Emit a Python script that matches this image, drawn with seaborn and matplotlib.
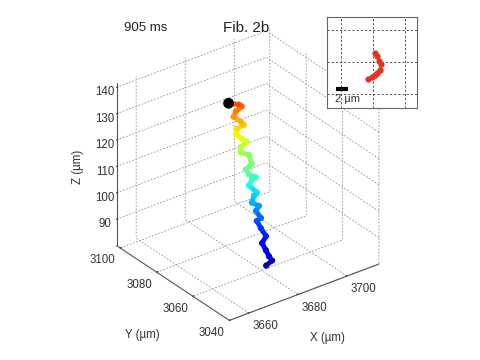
import numpy as np
import matplotlib
matplotlib.use("Agg")
import matplotlib.pyplot as plt
import seaborn as sns
from mpl_toolkits.mplot3d.art3d import Line3DCollection

# ---- data: fibre tip trajectory (µm), start (blue) -> end (black dot)
x_um = [3678.3, 3681.0, 3680.2, 3679.6, 3678.8, 3680.9, 3679.7, 3678.8, 3680.6,
        3679.4, 3680.9, 3678.6, 3680.0, 3681.4, 3679.0, 3680.7, 3682.3, 3680.0,
        3679.3, 3682.0, 3681.7, 3678.9, 3679.4, 3682.1, 3680.5, 3678.7, 3679.5,
        3682.5, 3681.6, 3679.4, 3680.7, 3683.4, 3682.4, 3678.9]
y_um = [3055.2, 3055.6, 3056.2, 3057.1, 3058.1, 3058.8, 3060.0, 3061.0, 3061.2,
        3062.3, 3062.7, 3063.4, 3064.2, 3064.4, 3065.6, 3066.2, 3066.3, 3067.0,
        3067.7, 3068.1, 3069.3, 3070.0, 3070.6, 3071.0, 3071.5, 3072.4, 3073.0,
        3073.2, 3073.7, 3074.6, 3075.1, 3075.5, 3075.8, 3076.7]
z_um = [84.6, 85.4, 87.0, 89.1, 91.6, 93.2, 96.1, 98.7, 99.1, 101.7, 102.9,
        104.6, 106.4, 107.0, 110.0, 111.4, 111.6, 113.2, 115.0, 115.9, 118.9,
        120.6, 122.1, 123.0, 124.4, 126.5, 127.9, 128.3, 129.6, 131.8, 133.1,
        133.9, 134.8, 136.1]

# ---- inset (top view of last positions, µm)
inset_x = [10.3, 10.6, 11.0, 11.2, 11.1, 10.7, 10.3, 9.8, 9.2]
inset_y = [11.4, 10.9, 10.2, 9.6, 8.8, 8.3, 8.0, 7.7, 7.4]

x_ticks = [3660, 3680, 3700]
y_ticks = [3040, 3060, 3080, 3100]
z_ticks = [90, 100, 110, 120, 130, 140]
time_label = "905 ms"
title_label = "Fib. 2b"
scale_label = "2 µm"

sns.set_style("white")
plt.rcParams['font.family'] = ['Liberation Sans', 'DejaVu Sans']
plt.rcParams['grid.linestyle'] = (0, (2.0, 2.0))
plt.rcParams['grid.color'] = '#8f8f8f'
plt.rcParams['grid.linewidth'] = 0.6

fig = plt.figure(figsize=(4.8, 3.6), dpi=100)
ax = fig.add_axes([0.006, 0.004, 1.0, 1.0], projection='3d', computed_zorder=False)
ax.set_proj_type('ortho')
ax.view_init(elev=30, azim=-127)
ax.set_box_aspect((1, 1, 1), zoom=0.875)
ax.set_xlim(3652, 3713)
ax.set_ylim(3040, 3102)
ax.set_zlim(80, 141.5)
ax.set_xticks(x_ticks, labels=[str(v) for v in x_ticks], ha='left')
ax.set_yticks(y_ticks, labels=[str(v) for v in y_ticks], ha='right')
ax.set_zticks(z_ticks)

for axis in (ax.xaxis, ax.yaxis, ax.zaxis):
    axis.set_pane_color((1, 1, 1, 0))
    axis.pane.set_edgecolor((1, 1, 1, 0))
    axis.line.set_color('#555555')
    axis.line.set_linewidth(0.8)
    axis._axinfo['tick']['inward_factor'] = 0.0
    axis._axinfo['tick']['outward_factor'] = 0.1
    axis._axinfo['tick']['color'] = '#555555'
ax.tick_params(labelsize=8.3, colors='#333333')
ax.xaxis.set_tick_params(pad=-4)
ax.yaxis.set_tick_params(pad=-4)
ax.zaxis.set_tick_params(pad=-2)

fig.text(327 / 480, 1 - 338 / 360, 'X (µm)', ha='center', va='center',
         fontsize=8.3, color='#333333')
fig.text(142 / 480, 1 - 335 / 360, 'Y (µm)', ha='center', va='center',
         fontsize=8.3, color='#333333')
fig.text(78 / 480, 1 - 167 / 360, 'Z (µm)', ha='center', va='center',
         fontsize=8.3, color='#333333', rotation=90)

jet = matplotlib.colormaps['jet']
n = len(x_um)
cvals = np.linspace(0.03, 0.85, n)
cols = [jet(v) for v in cvals]
pts = np.column_stack([x_um, y_um, z_um])
segs = [pts[i:i + 2] for i in range(n - 1)]
lc = Line3DCollection(segs, colors=cols[:-1], linewidths=3.5, capstyle='round',
                      zorder=3)
ax.add_collection3d(lc)
ax.scatter(x_um[:-1], y_um[:-1], z_um[:-1], c=cols[:-1], s=20, depthshade=False,
           edgecolors='none', zorder=4)
ax.scatter([x_um[-1]], [y_um[-1]], [z_um[-1]], c='black', s=60, depthshade=False,
           edgecolors='none', zorder=5)

fig.text(0.303, 0.922, time_label, ha='center', va='center', fontsize=9.5,
         color='#222222')
fig.text(0.5125, 0.922, title_label, ha='center', va='center', fontsize=11,
         color='#222222')

# inset
axi = fig.add_axes([0.681, 0.70, 0.1875, 0.253])
axi.set_facecolor('white')
axi.set_xlim(2.8, 16.86)
axi.set_ylim(2.8, 17.03)
axi.set_xticks([5, 10, 15])
axi.set_yticks([5, 10, 15])
axi.tick_params(length=0, labelbottom=False, labelleft=False)
axi.grid(True, color='#333333', linestyle=(0, (2.5, 2.5)), linewidth=0.6)
for s in axi.spines.values():
    s.set_color('#666666')
    s.set_linewidth(0.8)
axi.plot(inset_x, inset_y, color='#e5321c', lw=1.5, marker='o', ms=4.5,
         mec='none')
axi.plot([4.2, 6.1], [5.8, 5.8], color='black', lw=3, solid_capstyle='butt')
axi.text(4.0, 4.2, scale_label, fontsize=8, color='#333333', ha='left',
         va='center')

fig.savefig('out.png', dpi=100)
